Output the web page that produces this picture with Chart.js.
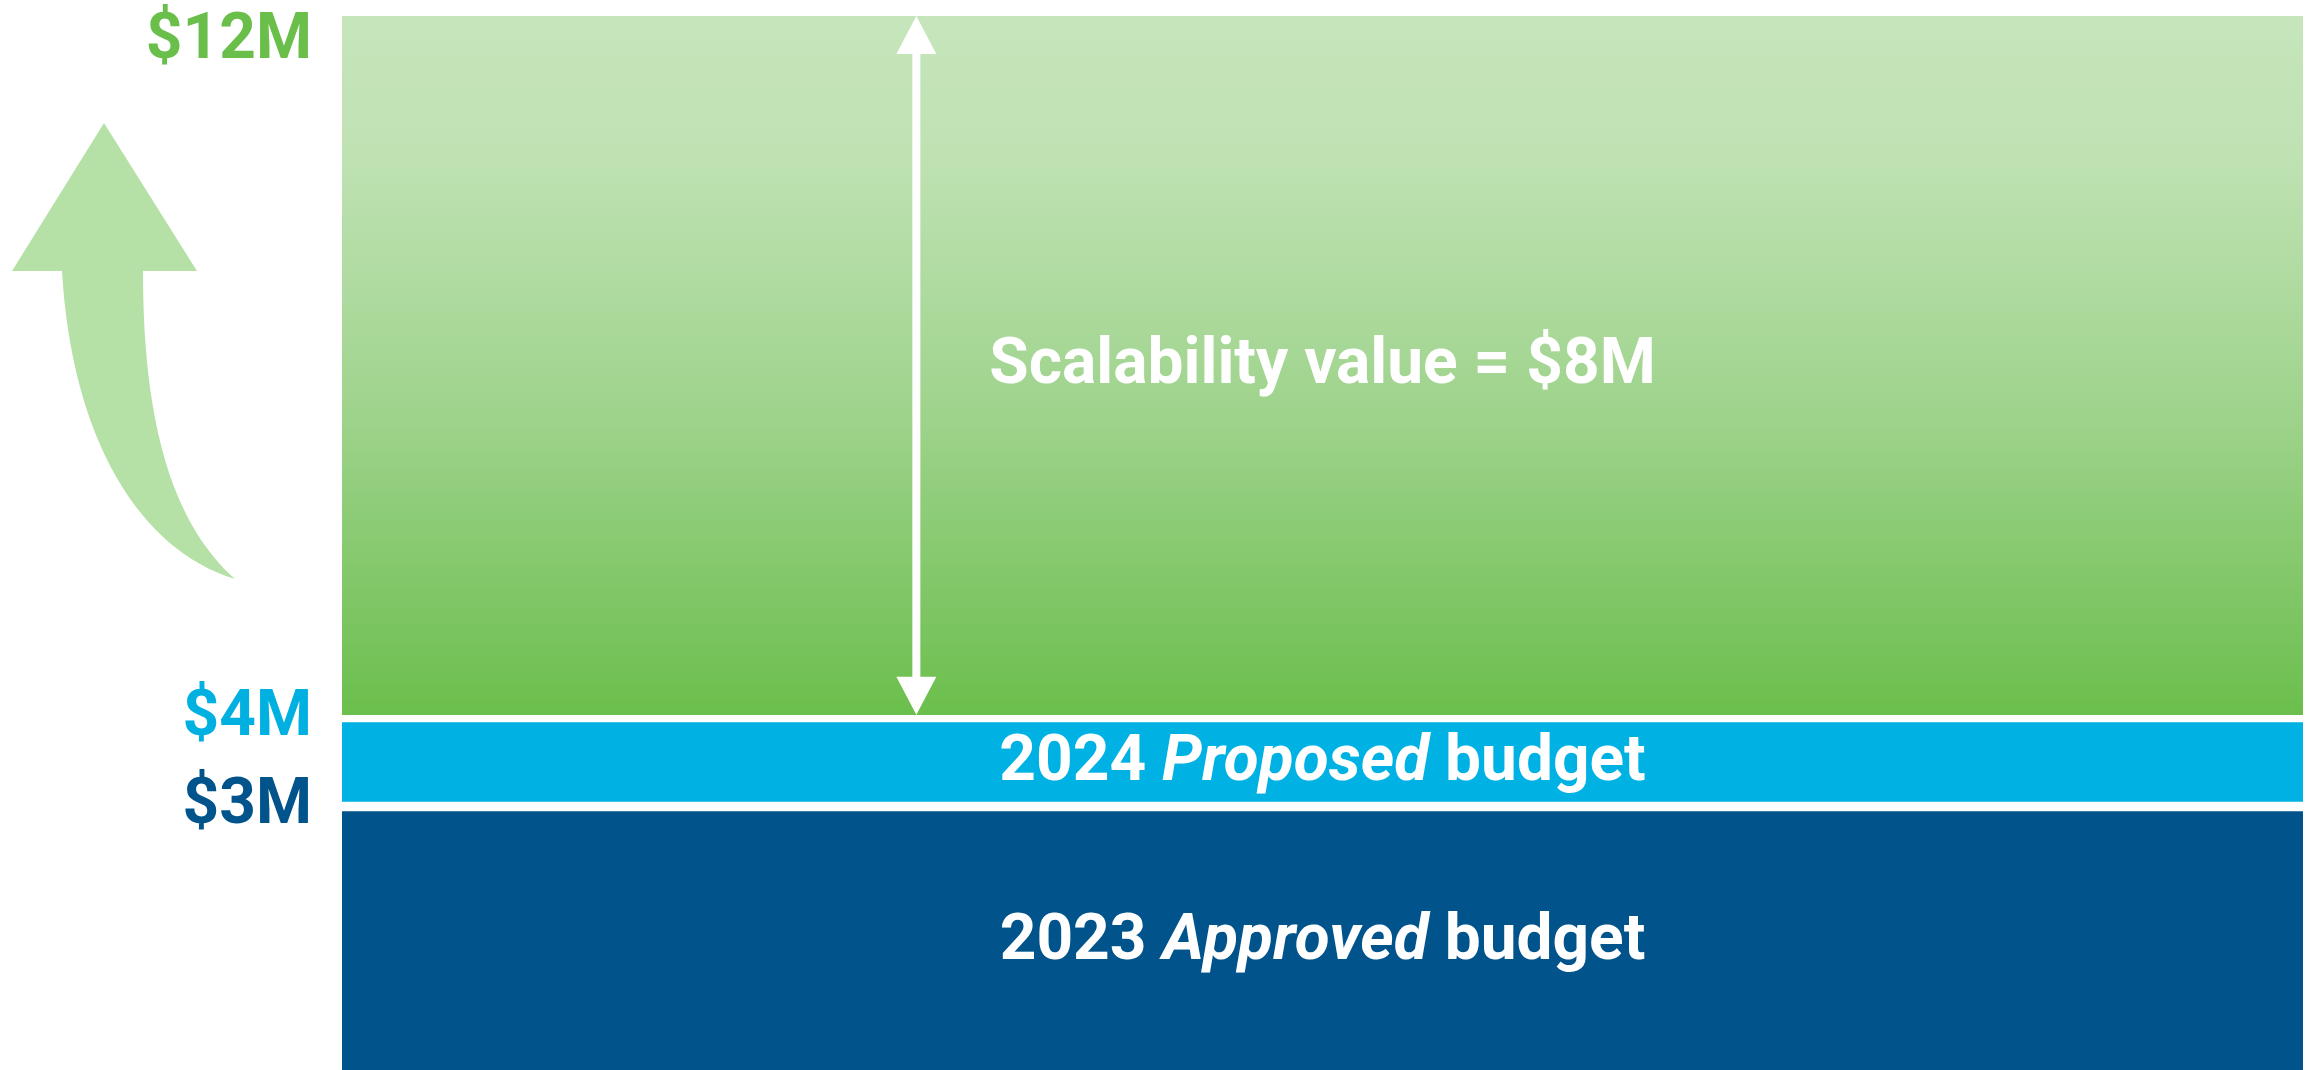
<!DOCTYPE html>
<html>
<head>
<meta charset="utf-8">
<title>Budget scalability</title>
<script src="https://cdn.jsdelivr.net/npm/chart.js@4.4.1/dist/chart.umd.min.js"></script>
<style>
    html, body { margin: 0; padding: 0; background: #fff; overflow: hidden; }
    #wrap { width: 2313px; height: 1070px; }
</style>
</head>
<body>
<div id="wrap"><canvas id="chart" width="2313" height="1070"></canvas></div>
<script>
(function () {
    'use strict';

    // one stacked column, amounts in $M
    var categories = ['Budget'];
    var approved2023 = [3];
    var proposed2024 = [1];
    var scalability = [8];

    var tickValues = [3, 4, 12];
    var tickLabels = ['$3M', '$4M', '$12M'];
    var tickColors = ['#00538b', '#00b0e0', '#6abf4b'];

    // *word* = italic
    var segmentLabels = ['2023 *Approved* budget', '2024 *Proposed* budget', 'Scalability value = $8M'];

    var FONT = 'Roboto';
    var TEXT_SIZE = 64;

    function greenFill(c) {
        var chart = c.chart;
        if (!chart.chartArea) {
            return '#8fcd77';
        }
        var y = chart.scales.y;
        var top = y.getPixelForValue(tickValues[2]);
        var bottom = y.getPixelForValue(tickValues[1]);
        var g = chart.ctx.createLinearGradient(0, top, 0, bottom);
        g.addColorStop(0, '#c6e5bb');
        g.addColorStop(0.2, '#bfe2b3');
        g.addColorStop(0.55, '#a0d48e');
        g.addColorStop(0.85, '#7dc563');
        g.addColorStop(1, '#6abf4b');
        return g;
    }

    function parseRuns(str) {
        var runs = [];
        var parts = str.split('*');
        for (var i = 0; i < parts.length; i++) {
            if (parts[i]) {
                runs.push({ text: parts[i], italic: i % 2 === 1 });
            }
        }
        return runs;
    }

    function runFont(r) {
        return (r.italic ? 'italic ' : '') + '700 ' + TEXT_SIZE + 'px ' + FONT;
    }

    function runsWidth(ctx, runs) {
        var w = 0;
        for (var i = 0; i < runs.length; i++) {
            ctx.font = runFont(runs[i]);
            w += ctx.measureText(runs[i].text).width;
        }
        return w;
    }

    function drawRuns(ctx, runs, x, y) {
        for (var i = 0; i < runs.length; i++) {
            ctx.font = runFont(runs[i]);
            ctx.fillText(runs[i].text, x, y);
            x += ctx.measureText(runs[i].text).width;
        }
    }

    function doubleArrow(ctx, x, top, bottom) {
        var head = 38, half = 20, shaft = 4;
        ctx.beginPath();
        ctx.moveTo(x, top);
        ctx.lineTo(x + half, top + head);
        ctx.lineTo(x + shaft, top + head);
        ctx.lineTo(x + shaft, bottom - head);
        ctx.lineTo(x + half, bottom - head);
        ctx.lineTo(x, bottom);
        ctx.lineTo(x - half, bottom - head);
        ctx.lineTo(x - shaft, bottom - head);
        ctx.lineTo(x - shaft, top + head);
        ctx.lineTo(x - half, top + head);
        ctx.closePath();
        ctx.fill();
    }

    // big pale curved arrow in the left margin (decoration)
    var growthArrow = {
        id: 'growthArrow',
        beforeDatasetsDraw: function (chart) {
            var ctx = chart.ctx;
            ctx.save();
            ctx.fillStyle = '#b5e0a6';
            ctx.beginPath();
            ctx.moveTo(104, 123);
            ctx.lineTo(197, 271);
            ctx.lineTo(143, 271);
            ctx.bezierCurveTo(143, 430, 175, 525, 235, 579);
            ctx.bezierCurveTo(140, 550, 72, 440, 62, 271);
            ctx.lineTo(12, 271);
            ctx.closePath();
            ctx.fill();
            ctx.restore();
        }
    };

    var segmentText = {
        id: 'segmentText',
        afterDatasetsDraw: function (chart) {
            var ctx = chart.ctx;
            var area = chart.chartArea;
            var cx = (area.left + area.right) / 2;
            ctx.save();
            ctx.fillStyle = '#ffffff';
            ctx.textAlign = 'left';
            ctx.textBaseline = 'middle';
            chart.data.datasets.forEach(function (ds, i) {
                var bar = chart.getDatasetMeta(i).data[0];
                var bw = ds.borderWidth;
                var top = bar.y + bw.top;
                var bottom = bar.base - bw.bottom;
                var runs = parseRuns(segmentLabels[i]);
                var x0 = cx - runsWidth(ctx, runs) / 2;
                drawRuns(ctx, runs, x0, (top + bottom) / 2 + 2);
                if (i === 2) {
                    doubleArrow(ctx, x0 - 73, top, bottom);
                }
            });
            ctx.restore();
        }
    };

    function build() {
        new Chart(document.getElementById('chart'), {
            type: 'bar',
            data: {
                labels: categories,
                datasets: [{
                    label: '2023 Approved budget',
                    data: approved2023,
                    backgroundColor: '#00538b',
                    borderColor: '#ffffff',
                    borderWidth: { top: 5, bottom: 0, left: 0, right: 0 },
                    borderSkipped: false
                }, {
                    label: '2024 Proposed budget',
                    data: proposed2024,
                    backgroundColor: '#00b2e3',
                    borderColor: '#ffffff',
                    borderWidth: { top: 4, bottom: 5, left: 0, right: 0 },
                    borderSkipped: false
                }, {
                    label: 'Scalability value',
                    data: scalability,
                    backgroundColor: greenFill,
                    borderColor: '#ffffff',
                    borderWidth: { top: 0, bottom: 4, left: 0, right: 0 },
                    borderSkipped: false
                }]
            },
            options: {
                responsive: false,
                animation: false,
                devicePixelRatio: 1,
                barPercentage: 1,
                categoryPercentage: 1,
                layout: { padding: { top: 16, right: 10, bottom: 0, left: 0 } },
                plugins: {
                    legend: { display: false },
                    tooltip: { enabled: false }
                },
                scales: {
                    x: { stacked: true, display: false },
                    y: {
                        stacked: true,
                        min: 0,
                        max: 12,
                        grid: { display: false, drawTicks: false },
                        border: { display: false },
                        afterBuildTicks: function (scale) {
                            scale.ticks = tickValues.map(function (v) { return { value: v }; });
                        },
                        afterFit: function (scale) {
                            scale.width = 342;
                            scale.paddingTop = 0;
                            scale.paddingBottom = 0;
                        },
                        ticks: {
                            padding: 30,
                            autoSkip: false,
                            font: { family: FONT, size: TEXT_SIZE, weight: '700', lineHeight: 0.8 },
                            color: function (c) {
                                return tickColors[tickValues.indexOf(c.tick.value)];
                            },
                            callback: function (value) {
                                var label = tickLabels[tickValues.indexOf(value)];
                                // top label sits just under the top edge
                                return value === tickValues[tickValues.length - 1] ? ['', label] : label;
                            }
                        }
                    }
                }
            },
            plugins: [growthArrow, segmentText]
        });
    }

    var loads = [
        '700 64px Roboto',
        'italic 700 64px Roboto'
    ].map(function (f) { return document.fonts.load(f); });
    Promise.all(loads).then(build, build);
})();
</script>
</body>
</html>
